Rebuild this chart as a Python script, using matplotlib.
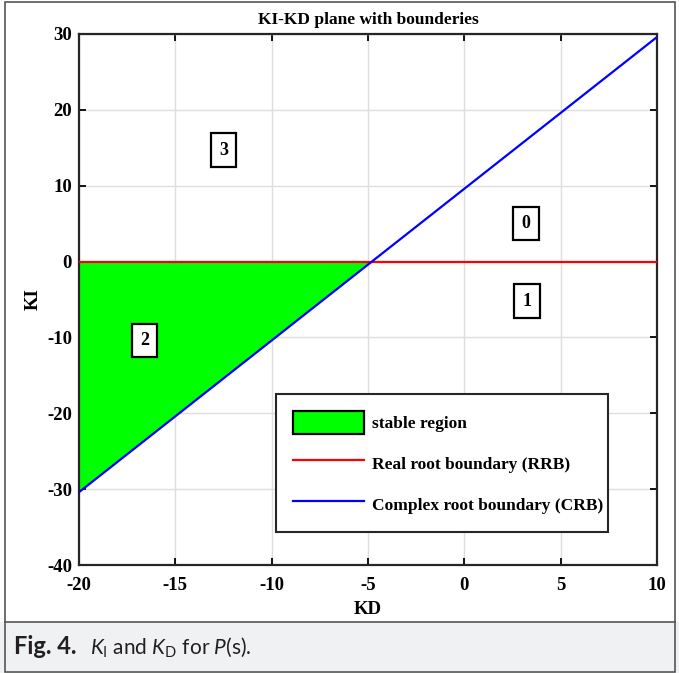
import matplotlib
matplotlib.use("Agg")
import matplotlib.pyplot as plt
from matplotlib.patches import Rectangle, Patch
from matplotlib.lines import Line2D

# Boundary data in the KD-KI plane
kd_range = [-20, 10]
rrb_ki = [0, 0]                      # real root boundary (KI = 0)
crb_ki = [-30.4, 29.6]               # complex root boundary
stable_kd = [-20, -4.8, -20]         # stable triangle vertices
stable_ki = [0, 0, -30.4]
region_ids = ["0", "1", "2", "3"]
region_kd = [3.2, 3.25, -16.6, -12.5]
region_ki = [5.0, -5.2, -10.4, 14.7]
x_ticks = [-20, -15, -10, -5, 0, 5, 10]
y_ticks = [-40, -30, -20, -10, 0, 10, 20, 30]

serif = "Liberation Serif"
cap_font = "Lato"
plt.rcParams["axes.unicode_minus"] = False
plt.rcParams["mathtext.fontset"] = "custom"
plt.rcParams["mathtext.rm"] = cap_font
plt.rcParams["mathtext.it"] = cap_font + ":italic"
plt.rcParams["mathtext.bf"] = cap_font + ":bold"

W, H = 679, 673
fig = plt.figure(figsize=(W / 100, H / 100), dpi=100)

ax = fig.add_axes([79 / W, 1 - 565 / H, (657 - 79) / W, (565 - 34) / H])
ax.fill(stable_kd, stable_ki, color="#00ff00", lw=0, zorder=2)
ax.plot(kd_range, rrb_ki, color="#ff0000", lw=1.6, zorder=3)
ax.plot(kd_range, crb_ki, color="#0000ff", lw=1.6, zorder=3)

for lab, xv, yv in zip(region_ids, region_kd, region_ki):
    ax.text(xv, yv, lab, ha="center", va="center", fontsize=13,
            fontfamily=serif, fontweight="bold", zorder=4,
            bbox=dict(boxstyle="square,pad=0.45", fc="white", ec="black", lw=1.6))

ax.set_xlim(-20, 10)
ax.set_ylim(-40, 30)
ax.set_xticks(x_ticks)
ax.set_yticks(y_ticks)
ax.grid(True, color="#dedede", lw=1.0, zorder=0)
ax.set_axisbelow(True)
ax.tick_params(direction="in", length=5, width=1.3, top=True, right=True,
               labelsize=13.5)
ax.tick_params(axis="x", pad=9)
ax.tick_params(axis="y", pad=5)
for lbl in ax.get_xticklabels() + ax.get_yticklabels():
    lbl.set_fontfamily(serif)
    lbl.set_fontweight("bold")
for sp in ax.spines.values():
    sp.set_linewidth(1.6)
    sp.set_color("#262626")

ax.set_title("KI-KD plane with bounderies", fontsize=12.5, fontfamily=serif,
             fontweight="bold", pad=7)
ax.set_xlabel("KD", fontsize=13.5, fontfamily=serif, fontweight="bold", labelpad=5)
ax.set_ylabel("KI", fontsize=13.5, fontfamily=serif, fontweight="bold", labelpad=4)

handles = [Patch(facecolor="#00ff00", edgecolor="black", lw=1.6),
           Line2D([], [], color="#ff0000", lw=1.6),
           Line2D([], [], color="#0000ff", lw=1.6)]
labels = ["stable region", "Real root boundary (RRB)", "Complex root boundary (CRB)"]
leg = ax.legend(handles, labels, loc="lower left",
                bbox_to_anchor=(0.341, 0.062, 0.574, 0.256), mode="expand",
                prop=dict(family=serif, weight="bold", size=12.5),
                handlelength=4.1, handleheight=1.64, labelspacing=1.05,
                borderpad=0.95, handletextpad=0.45, fancybox=False,
                framealpha=1, edgecolor="#262626", borderaxespad=0)
leg.get_frame().set_linewidth(1.5)
leg.set_zorder(5)

# Caption band and outer frame
band_top = 1 - 622 / H
fig.patches.append(Rectangle((0, 0), 1, band_top, transform=fig.transFigure,
                             facecolor="#f0f1f3", edgecolor="none", zorder=0))
fig.add_artist(Line2D([5 / W, 1 - 4 / W], [band_top, band_top],
                      transform=fig.transFigure, color="#555555", lw=1.2))
fig.add_artist(Rectangle((5 / W, 1.5 / H), 1 - 9 / W, 1 - 3.5 / H,
                         transform=fig.transFigure, fill=False,
                         edgecolor="#555555", lw=1.2))

cap_y = 1 - 654 / H
head = fig.text(14 / W, cap_y, "Fig. 4.", fontsize=17, fontfamily=cap_font,
                fontweight="bold", va="baseline", ha="left", color="#231f20")
renderer = fig.canvas.get_renderer()
x_end = head.get_window_extent(renderer).x1
fig.text((x_end + 13) / W, cap_y,
         r"$K_{\mathrm{I}}$ and $K_{\mathrm{D}}$ for $P$(s).",
         fontsize=15, fontfamily=cap_font, va="baseline", ha="left",
         color="#231f20")

fig.savefig("out.png", dpi=100)
